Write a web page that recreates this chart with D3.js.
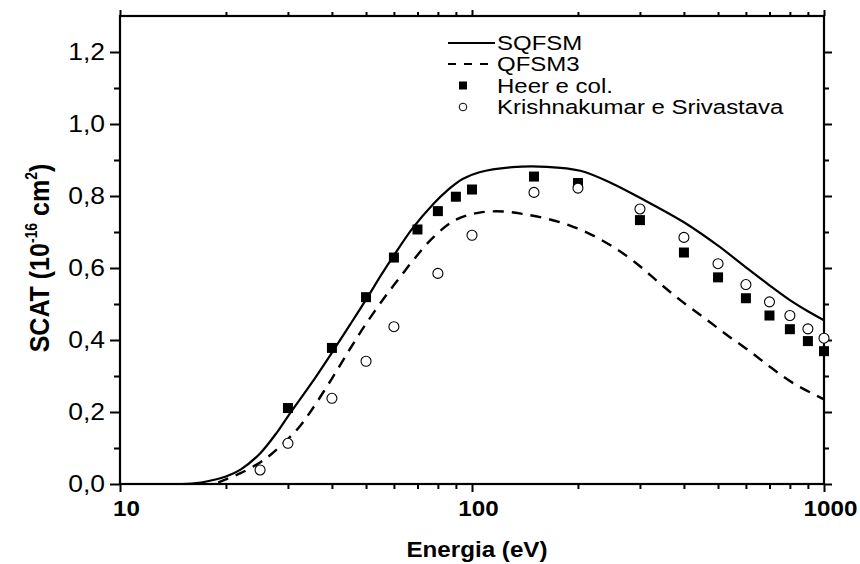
<!DOCTYPE html>
<html>
<head>
<meta charset="utf-8">
<script src="https://cdn.jsdelivr.net/npm/d3@7"></script>
<style>
  html, body { margin: 0; padding: 0; background: #fff; }
  svg { display: block; font-family: Arial, "Liberation Sans", Helvetica, sans-serif; }
</style>
</head>
<body>
<svg id="chart" width="860" height="564"></svg>
<script>
// ---- Data ----
const sqfsmE = [15, 16, 17, 18, 20, 22, 25, 28, 30, 35, 40, 45, 50, 55, 60, 68, 78, 85, 94, 105, 130, 163, 203, 250, 300, 400, 500, 600, 700, 800, 900, 1000];
const sqfsmV = [0, 0.001, 0.004, 0.009, 0.021, 0.04, 0.085, 0.145, 0.188, 0.28, 0.365, 0.442, 0.512, 0.578, 0.635, 0.712, 0.78, 0.815, 0.847, 0.866, 0.88, 0.881, 0.87, 0.835, 0.795, 0.727, 0.662, 0.602, 0.552, 0.511, 0.48, 0.455];

const qfsm3E = [19, 20, 22, 25, 27, 30, 32.4, 35, 40, 45, 50, 56.6, 62.4, 68.9, 78.5, 90.4, 105, 123, 140, 163, 190, 221, 255, 294, 342, 394, 459, 530, 617, 710, 818, 1000];
const qfsm3V = [0.004, 0.013, 0.03, 0.06, 0.084, 0.125, 0.16, 0.205, 0.293, 0.375, 0.445, 0.52, 0.574, 0.628, 0.69, 0.735, 0.754, 0.757, 0.75, 0.737, 0.718, 0.69, 0.655, 0.612, 0.557, 0.508, 0.46, 0.414, 0.368, 0.322, 0.28, 0.235];

const heerE = [30, 40, 50, 60, 70, 80, 90, 100, 150, 200, 300, 400, 500, 600, 700, 800, 900, 1000];
const heerV = [0.211, 0.378, 0.519, 0.629, 0.707, 0.758, 0.798, 0.818, 0.854, 0.836, 0.733, 0.643, 0.574, 0.516, 0.468, 0.43, 0.397, 0.369];

const krishE = [25, 30, 40, 50, 60, 80, 100, 150, 200, 300, 400, 500, 600, 700, 800, 900, 1000];
const krishV = [0.039, 0.113, 0.238, 0.341, 0.437, 0.585, 0.691, 0.81, 0.822, 0.764, 0.685, 0.612, 0.554, 0.506, 0.468, 0.431, 0.405];

const xMajorTicks = [10, 100, 1000];
const xMinorTicks = [20, 30, 40, 50, 60, 70, 80, 90, 200, 300, 400, 500, 600, 700, 800, 900];
const yMajorTicks = [0, 0.2, 0.4, 0.6, 0.8, 1.0, 1.2];
const yMinorTicks = [0.1, 0.3, 0.5, 0.7, 0.9, 1.1];

const legendNames = ["SQFSM", "QFSM3", "Heer e col.", "Krishnakumar e Srivastava"];

// ---- Layout ----
const pLeft = 120, pRight = 824, pTop = 16, pBottom = 484;
const SX = 1.15; // horizontal stretch of the original lettering
const svg = d3.select("#chart");

const x = d3.scaleLog().domain([10, 1000]).range([pLeft, pRight]);
const y = d3.scaleLinear().domain([0, 1.3]).range([pBottom, pTop]);

const fmtY = v => d3.format(".1f")(v).replace(".", ",");

function styleAxis(g) {
  g.select(".domain").remove();
  g.selectAll(".tick line").attr("stroke", "#000").attr("stroke-width", 2);
}
// stretch a text horizontally about its anchor point (ax, ay)
function stretch(sel, ax, ay, s) {
  sel.attr("transform", `translate(${ax},${ay}) scale(${s},1) translate(${-ax},${-ay})`);
}

// Bottom axis
svg.append("g").attr("transform", `translate(0,${pBottom})`)
  .call(d3.axisBottom(x).tickValues(xMajorTicks).tickSize(8).tickPadding(8).tickFormat(d3.format("d")))
  .call(styleAxis)
  .call(g => g.selectAll("text")
     .attr("font-size", 22).attr("font-weight", "bold").attr("fill", "#000")
     .attr("font-family", "Arial, 'Liberation Sans', sans-serif")
     .attr("x", 6).attr("y", 16.7).attr("dy", "0.71em")
     .each(function() { stretch(d3.select(this), 6, 0, 1.1); }));
svg.append("g").attr("transform", `translate(0,${pBottom})`)
  .call(d3.axisBottom(x).tickValues(xMinorTicks).tickSize(5).tickFormat(""))
  .call(styleAxis);
// Top axis
svg.append("g").attr("transform", `translate(0,${pTop})`)
  .call(d3.axisTop(x).tickValues(xMajorTicks).tickSize(6).tickFormat(""))
  .call(styleAxis);
svg.append("g").attr("transform", `translate(0,${pTop})`)
  .call(d3.axisTop(x).tickValues(xMinorTicks).tickSize(4).tickFormat(""))
  .call(styleAxis);
// Left axis
svg.append("g").attr("transform", `translate(${pLeft},0)`)
  .call(d3.axisLeft(y).tickValues(yMajorTicks).tickSize(10).tickPadding(5).tickFormat(fmtY))
  .call(styleAxis)
  .call(g => g.selectAll("text")
     .attr("font-size", 23).attr("fill", "#000")
     .attr("font-family", "Arial, 'Liberation Sans', sans-serif")
     .attr("x", -15)
     .each(function() { stretch(d3.select(this), -15, 0, SX); }));
svg.append("g").attr("transform", `translate(${pLeft},0)`)
  .call(d3.axisLeft(y).tickValues(yMinorTicks).tickSize(6).tickFormat(""))
  .call(styleAxis);
// Right axis
svg.append("g").attr("transform", `translate(${pRight},0)`)
  .call(d3.axisRight(y).tickValues(yMajorTicks).tickSize(8).tickFormat(""))
  .call(styleAxis);
svg.append("g").attr("transform", `translate(${pRight},0)`)
  .call(d3.axisRight(y).tickValues(yMinorTicks).tickSize(5).tickFormat(""))
  .call(styleAxis);

// Frame
svg.append("rect").attr("x", pLeft).attr("y", pTop).attr("width", pRight - pLeft).attr("height", pBottom - pTop)
  .attr("fill", "none").attr("stroke", "#000").attr("stroke-width", 2.2);

// Lines
const line = d3.line().x(d => x(d[0])).y(d => y(d[1])).curve(d3.curveCatmullRom.alpha(0.5));
svg.append("path").datum(sqfsmE.map((e, i) => [e, sqfsmV[i]]))
  .attr("d", line).attr("fill", "none").attr("stroke", "#000").attr("stroke-width", 2.2);
svg.append("path").datum(qfsm3E.map((e, i) => [e, qfsm3V[i]]))
  .attr("d", line).attr("fill", "none").attr("stroke", "#000").attr("stroke-width", 2.4)
  .attr("stroke-dasharray", "11,8");

// Markers
svg.append("g").selectAll("rect").data(heerE.map((e, i) => [e, heerV[i]])).join("rect")
  .attr("x", d => x(d[0]) - 5).attr("y", d => y(d[1]) - 5).attr("width", 10).attr("height", 10)
  .attr("fill", "#000");
svg.append("g").selectAll("circle").data(krishE.map((e, i) => [e, krishV[i]])).join("circle")
  .attr("cx", d => x(d[0])).attr("cy", d => y(d[1])).attr("r", 5)
  .attr("fill", "#fff").attr("stroke", "#000").attr("stroke-width", 1.1);

// Legend
const lg = svg.append("g");
const lx = 448, textX = 497, rowY = [43, 64, 85.5, 107], fs = 20.5;
lg.append("line").attr("x1", lx).attr("x2", lx + 47).attr("y1", rowY[0]).attr("y2", rowY[0])
  .attr("stroke", "#000").attr("stroke-width", 2.2);
lg.append("line").attr("x1", lx).attr("x2", lx + 46).attr("y1", rowY[1]).attr("y2", rowY[1])
  .attr("stroke", "#000").attr("stroke-width", 2.2).attr("stroke-dasharray", "8,8");
lg.append("rect").attr("x", 463 - 4).attr("y", rowY[2] - 4).attr("width", 8).attr("height", 8).attr("fill", "#000");
lg.append("circle").attr("cx", 463).attr("cy", rowY[3]).attr("r", 3.8).attr("fill", "#fff")
  .attr("stroke", "#000").attr("stroke-width", 1);
legendNames.forEach((n, i) => {
  const t = lg.append("text").attr("x", textX).attr("y", rowY[i]).attr("dy", "0.36em")
    .attr("font-size", fs).attr("fill", "#000").text(n);
  stretch(t, textX, rowY[i], 1.17);
});

// Axis titles
const xt = svg.append("text").attr("x", 477).attr("y", 557).attr("text-anchor", "middle")
  .attr("font-size", 22).attr("font-weight", "bold").text("Energia (eV)");
stretch(xt, 477, 557, 1.1);

const yt = svg.append("text")
  .attr("transform", `translate(49,258) scale(1.12,1) rotate(-90)`)
  .attr("text-anchor", "middle").attr("font-size", 25).attr("font-weight", "bold");
yt.append("tspan").text("SCAT (10");
yt.append("tspan").attr("font-size", 14).attr("dy", -11).text("-16");
yt.append("tspan").attr("dy", 11).text(" cm");
yt.append("tspan").attr("font-size", 14).attr("dy", -11).text("2");
yt.append("tspan").attr("dy", 11).text(")");
</script>
</body>
</html>
